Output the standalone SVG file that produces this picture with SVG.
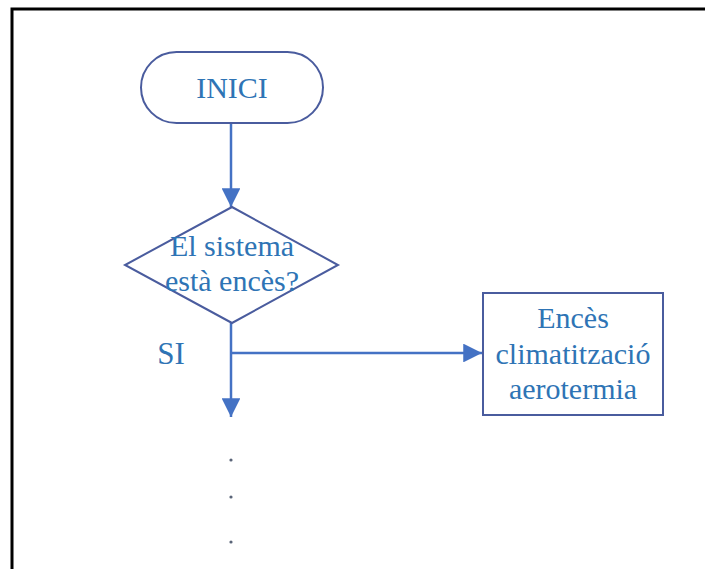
<svg xmlns="http://www.w3.org/2000/svg" width="705" height="569" viewBox="0 0 705 569">
<defs>
<style>
.shape{fill:#fff;stroke:#4a5c9e;stroke-width:2}
.conn{fill:none;stroke:#4472c4;stroke-width:2.5}
.t{font-family:"Liberation Serif","Times New Roman",serif;font-size:30px;fill:#2e74b5;text-anchor:middle}
</style>
<marker id="ah" viewBox="0 0 10 10" refX="10" refY="5" markerWidth="7.5" markerHeight="7.5" markerUnits="strokeWidth" orient="auto">
<path d="M0,0 L10,5 L0,10 Z" fill="#4472c4"/>
</marker>
</defs>
<rect width="705" height="569" fill="#fff"/>
<path d="M12,569 V9 H705" fill="none" stroke="#000" stroke-width="3"/>
<g id="connectors">
<line class="conn" x1="231" y1="123" x2="231" y2="207" marker-end="url(#ah)"/>
<line class="conn" x1="231" y1="323" x2="231" y2="417" marker-end="url(#ah)"/>
<line class="conn" x1="231" y1="353" x2="482" y2="353" marker-end="url(#ah)"/>
</g>
<g id="inici">
<rect class="shape" x="141" y="52" width="182" height="71" rx="35.5"/>
<text class="t" x="232" y="98">INICI</text>
</g>
<g id="decisio">
<polygon class="shape" points="232,207 338,265 232,323 125,265"/>
<text class="t" x="232" y="256">El sistema</text>
<text class="t" x="232" y="291">està encès?</text>
</g>
<g id="si-label">
<text class="t" x="171" y="364" style="font-size:31px">SI</text>
</g>
<g id="climatitzacio">
<rect class="shape" x="483" y="293" width="180" height="122"/>
<text class="t" x="573" y="328">Encès</text>
<text class="t" x="573" y="364">climatització</text>
<text class="t" x="573" y="399">aerotermia</text>
</g>
<g id="dots" fill="#5a6478">
<circle cx="231" cy="460" r="1.6"/>
<circle cx="231" cy="497" r="1.6"/>
<circle cx="231" cy="542" r="1.6"/>
</g>
</svg>
